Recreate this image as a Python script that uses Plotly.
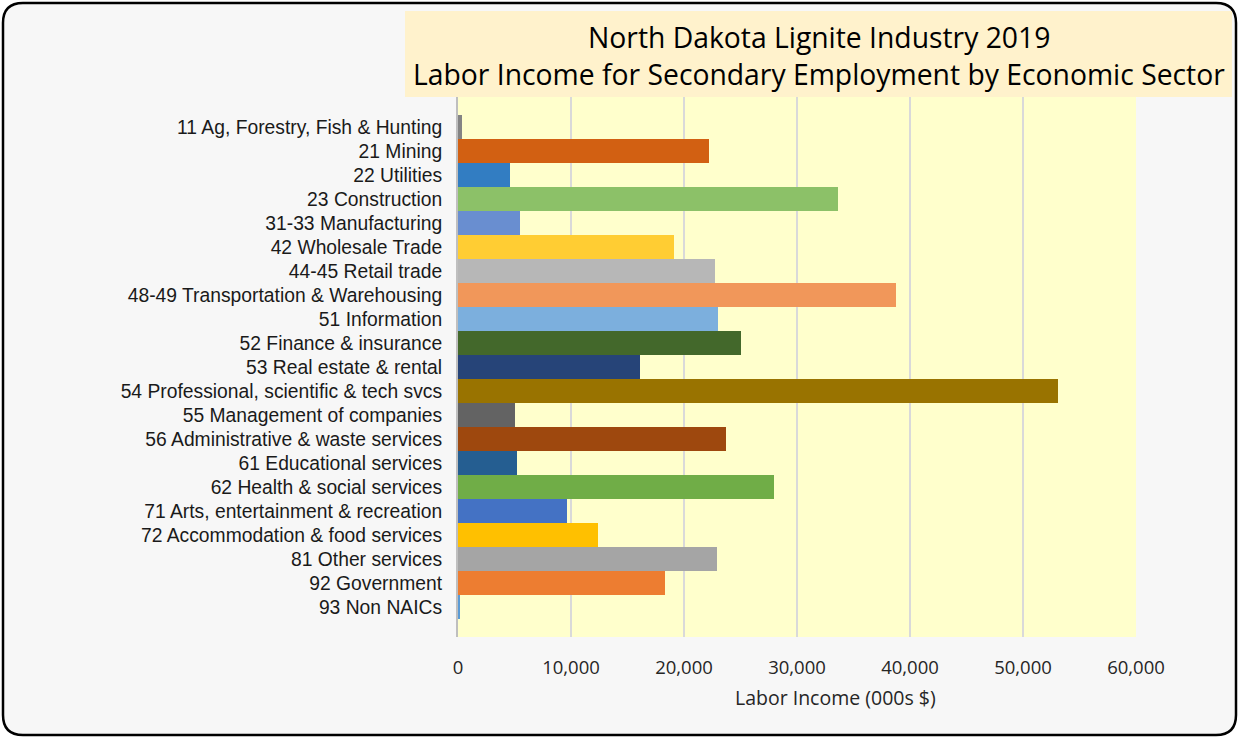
import plotly.graph_objects as go

categories = [
    "11 Ag, Forestry, Fish & Hunting",
    "21 Mining",
    "22 Utilities",
    "23 Construction",
    "31-33 Manufacturing",
    "42 Wholesale Trade",
    "44-45 Retail trade",
    "48-49 Transportation & Warehousing",
    "51 Information",
    "52 Finance & insurance",
    "53 Real estate & rental",
    "54 Professional, scientific & tech svcs",
    "55 Management of companies",
    "56 Administrative & waste services",
    "61 Educational services",
    "62 Health & social services",
    "71 Arts, entertainment & recreation",
    "72 Accommodation & food services",
    "81 Other services",
    "92 Government",
    "93 Non NAICs",
]
values = [350, 22240, 4630, 33600, 5510, 19080, 22720, 38740, 23000, 25070,
          16100, 53090, 5040, 23730, 5200, 27950, 9660, 12350, 22900, 18350, 100]
colors = ["#848484", "#D26012", "#327DC2", "#8CC168", "#698ED0", "#FFCD33",
          "#B7B7B7", "#F1975A", "#7CAFDD", "#43682B", "#264478", "#997300",
          "#636363", "#9E480E", "#255E91", "#70AD47", "#4472C4", "#FFC000",
          "#A5A5A5", "#ED7D31", "#5B9BD5"]
tick_vals = [0, 10000, 20000, 30000, 40000, 50000, 60000]
tick_text = ["0", "10,000", "20,000", "30,000", "40,000", "50,000", "60,000"]
title_lines = ["North Dakota Lignite Industry 2019",
               "Labor Income for Secondary Employment by Economic Sector"]
x_title = "Labor Income (000s $)"

W, H = 1239, 738
L, R, T, B = 458, 1136, 97, 637


def px(x):
    return (x - L) / (R - L)


def py(y):
    return (B - y) / (B - T)


fig = go.Figure(go.Bar(
    x=values, y=categories, orientation="h",
    marker=dict(color=colors, line=dict(width=0)),
    hoverinfo="x+y",
))

# rounded outer border
x0, x1, y0, y1, r = 3, 1236, 3, 735, 20
path = (f"M {px(x0 + r)} {py(y0)} L {px(x1 - r)} {py(y0)} "
        f"Q {px(x1)} {py(y0)} {px(x1)} {py(y0 + r)} "
        f"L {px(x1)} {py(y1 - r)} Q {px(x1)} {py(y1)} {px(x1 - r)} {py(y1)} "
        f"L {px(x0 + r)} {py(y1)} Q {px(x0)} {py(y1)} {px(x0)} {py(y1 - r)} "
        f"L {px(x0)} {py(y0 + r)} Q {px(x0)} {py(y0)} {px(x0 + r)} {py(y0)} Z")

shapes = [
    dict(type="path", path=path, xref="paper", yref="paper",
         fillcolor="#F7F7F7", line=dict(color="#000000", width=2.5), layer="below"),
    dict(type="rect", xref="paper", yref="paper", x0=0, x1=1, y0=0, y1=1,
         fillcolor="#FFFFCC", line=dict(width=0), layer="below"),
    dict(type="rect", xref="paper", yref="paper",
         x0=px(405), x1=px(1232), y0=py(97), y1=py(11),
         fillcolor="#FFF2CC", line=dict(width=0), layer="above"),
]

annotations = [
    dict(text=title_lines[0], xref="paper", yref="paper", x=px(819), y=py(37),
         showarrow=False, xanchor="center", yanchor="middle",
         font=dict(family="Open Sans", size=28.3, color="#000000")),
    dict(text=title_lines[1], xref="paper", yref="paper", x=px(819), y=py(74),
         showarrow=False, xanchor="center", yanchor="middle",
         font=dict(family="Open Sans", size=28.3, color="#000000")),
    dict(text=x_title, xref="paper", yref="paper", x=px(835), y=py(697),
         showarrow=False, xanchor="center", yanchor="middle",
         font=dict(family="Open Sans", size=19.5, color="#262626")),
]

fig.update_layout(
    width=W, height=H,
    margin=dict(l=L, r=W - R, t=T, b=H - B, pad=0),
    paper_bgcolor="#FFFFFF",
    plot_bgcolor="#FFFFCC",
    bargap=0,
    showlegend=False,
    shapes=shapes,
    annotations=annotations,
    xaxis=dict(range=[0, 60000], tickvals=tick_vals, ticktext=tick_text,
               showgrid=True, gridcolor="#D9D9D9", gridwidth=2,
               zeroline=False, showline=False,
               ticks="outside", ticklen=14, tickcolor="rgba(0,0,0,0)",
               tickfont=dict(family="Open Sans", size=18.5, color="#262626"),
               fixedrange=True),
    yaxis=dict(categoryorder="array", categoryarray=categories,
               range=[21.25, -1.25],
               showgrid=False, zeroline=False,
               showline=True, linecolor="#BFBFBF", linewidth=2,
               ticks="outside", ticklen=10, tickcolor="rgba(0,0,0,0)",
               tickfont=dict(family="Liberation Sans", size=19.3, color="#1A1A1A"),
               fixedrange=True),
)

fig.write_html("out.html", config={"displayModeBar": False},
               post_script="document.body.style.margin='0px';")
